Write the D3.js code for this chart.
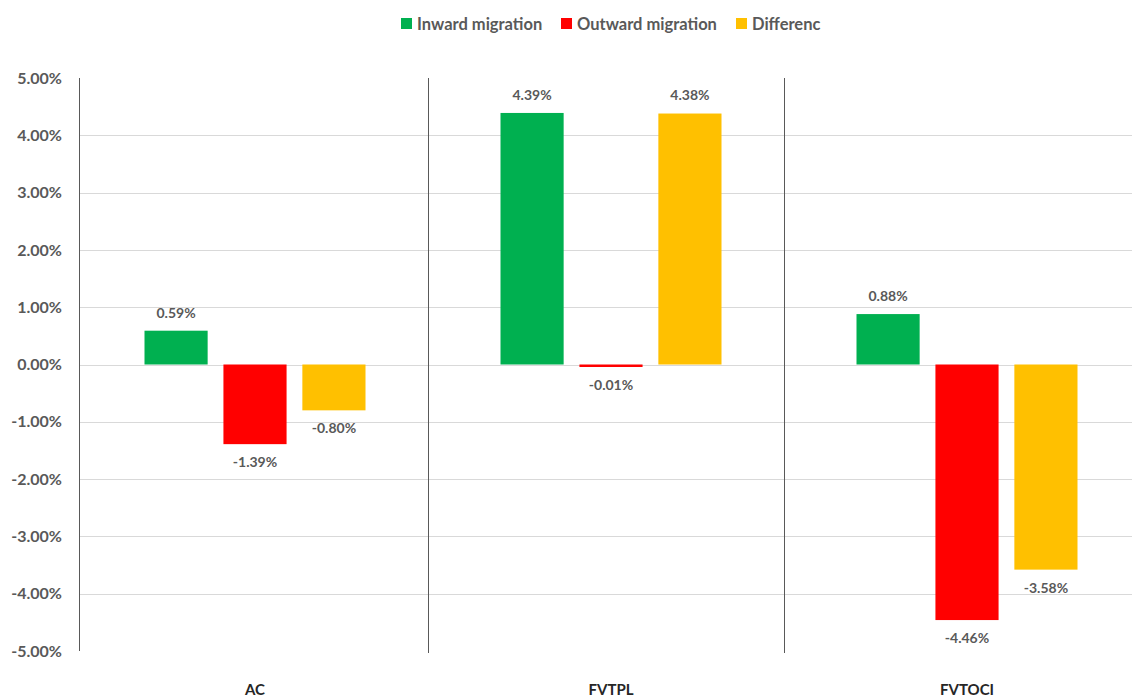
<!DOCTYPE html>
<html>
<head>
<meta charset="utf-8">
<script src="https://cdn.jsdelivr.net/npm/d3@7"></script>
<style>
  html, body { margin: 0; padding: 0; background: #fff; }
  svg { display: block; }
  text { font-family: Lato, "Open Sans", "Liberation Sans", sans-serif; }
</style>
</head>
<body>
<svg id="chart" width="1132" height="700"></svg>
<script>
// Migration rates by measurement category (percent)
const categories = ["AC", "FVTPL", "FVTOCI"];
const seriesNames = ["Inward migration", "Outward migration", "Differenc"];
const inward = [0.59, 4.39, 0.88];
const outward = [-1.39, -0.01, -4.46];
const difference = [-0.80, 4.38, -3.58];
const seriesColors = ["#00B050", "#FF0000", "#FFC000"];
const yTicks = [5, 4, 3, 2, 1, 0, -1, -2, -3, -4, -5];

const seriesValues = [inward, outward, difference];
const rows = categories.map((c, i) => ({
  category: c,
  values: seriesNames.map((s, k) => ({ series: s, value: seriesValues[k][i], color: seriesColors[k] }))
}));

const svg = d3.select("#chart");
const plotLeft = 79, plotTop = 78, plotBottom = 651;

const x = d3.scaleBand().domain(categories).range([77, 1145]).paddingInner(0).paddingOuter(0);
const inner = d3.scaleBand().domain(seriesNames).range([0, 221]).paddingInner(0.2).paddingOuter(0);
const y = d3.scaleLinear().domain([-5, 5]).range([plotBottom, plotTop]);

const fmt = v => v.toFixed(2) + "%";

// horizontal gridlines
svg.append("g")
  .selectAll("line")
  .data(yTicks.filter(t => Math.abs(t) < 5))
  .join("line")
  .attr("x1", plotLeft).attr("x2", 1132)
  .attr("y1", d => Math.round(y(d)) + 0.5).attr("y2", d => Math.round(y(d)) + 0.5)
  .attr("stroke", "#d9d9d9").attr("stroke-width", 1);

// y axis labels
const yAxis = d3.axisLeft(y).tickValues(yTicks).tickFormat(fmt).tickSize(0).tickPadding(17);
const gy = svg.append("g").attr("transform", `translate(${plotLeft},0)`).call(yAxis);
gy.select(".domain").remove();
gy.selectAll("text")
  .attr("fill", "#595959")
  .style("font-size", "16px")
  .style("font-weight", "bold");

// vertical axis line and category separators
svg.append("line")
  .attr("x1", plotLeft + 0.5).attr("x2", plotLeft + 0.5)
  .attr("y1", plotTop).attr("y2", plotBottom)
  .attr("stroke", "#595959").attr("stroke-width", 1);

svg.append("g")
  .selectAll("line")
  .data(categories.slice(1))
  .join("line")
  .attr("x1", d => Math.round(x(d) - 5) + 0.5)
  .attr("x2", d => Math.round(x(d) - 5) + 0.5)
  .attr("y1", plotTop).attr("y2", plotBottom + 2)
  .attr("stroke", "#595959").attr("stroke-width", 1);

// bars
const groups = svg.append("g")
  .selectAll("g")
  .data(rows)
  .join("g")
  .attr("transform", d => `translate(${x(d.category) + x.bandwidth() / 2 - 110.5},0)`);

groups.selectAll("rect")
  .data(d => d.values)
  .join("rect")
  .attr("x", d => inner(d.series))
  .attr("width", inner.bandwidth())
  .attr("y", d => y(Math.max(0, d.value)))
  .attr("height", d => Math.max(Math.abs(y(d.value) - y(0)), 2.5))
  .attr("fill", d => d.color);

// value labels
groups.selectAll("text")
  .data(d => d.values)
  .join("text")
  .attr("x", d => inner(d.series) + inner.bandwidth() / 2)
  .attr("y", d => d.value >= 0 ? y(d.value) - 18 : Math.max(y(d.value), y(0) + 2.5) + 18)
  .attr("dy", "0.35em")
  .attr("text-anchor", "middle")
  .attr("fill", "#595959")
  .style("font-size", "14px")
  .style("font-weight", "bold")
  .text(d => fmt(d.value));

// category labels
svg.append("g")
  .selectAll("text")
  .data(categories)
  .join("text")
  .attr("x", d => x(d) + x.bandwidth() / 2)
  .attr("y", 690)
  .attr("dy", "0.35em")
  .attr("text-anchor", "middle")
  .attr("fill", "#262626")
  .style("font-size", "15px")
  .style("font-weight", "bold")
  .text(d => d);

// legend
const legend = svg.append("g").attr("transform", "translate(401,24)");
const legendX = [0, 160, 335];
const items = legend.selectAll("g")
  .data(seriesNames)
  .join("g")
  .attr("transform", (d, i) => `translate(${legendX[i]},0)`);
items.append("rect")
  .attr("x", 0).attr("y", -6)
  .attr("width", 11).attr("height", 11)
  .attr("fill", (d, i) => seriesColors[i]);
items.append("text")
  .attr("x", 16).attr("y", 0)
  .attr("dy", "0.35em")
  .attr("fill", "#595959")
  .style("font-size", "16.5px")
  .style("font-weight", "bold")
  .text(d => d);
</script>
</body>
</html>
